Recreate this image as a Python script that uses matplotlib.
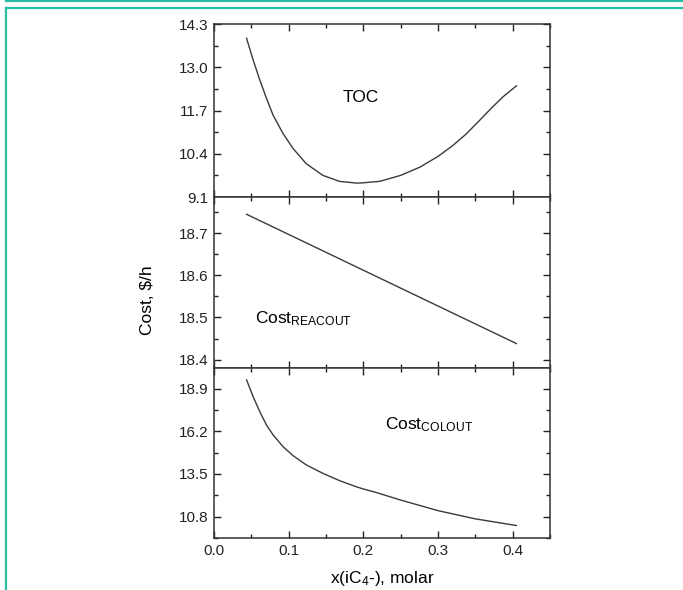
import matplotlib
matplotlib.use("Agg")
import matplotlib.pyplot as plt
import numpy as np
from matplotlib.ticker import FixedLocator, MultipleLocator, FormatStrFormatter
from matplotlib.lines import Line2D

plt.rcParams['font.family'] = ['Liberation Sans', 'DejaVu Sans']
plt.rcParams['mathtext.fontset'] = 'custom'
plt.rcParams['mathtext.rm'] = 'Liberation Sans'
plt.rcParams['mathtext.it'] = 'Liberation Sans'

# ---- data ----
toc_x = [0.0436, 0.0524, 0.0613, 0.0702, 0.0791, 0.0924, 0.1058, 0.1236, 0.1458,
         0.168, 0.190, 0.196, 0.222, 0.25, 0.276, 0.30, 0.32, 0.338, 0.356,
         0.371, 0.387, 0.405]
toc_y = [13.87, 13.22, 12.62, 12.07, 11.56, 11.01, 10.56, 10.10, 9.75,
         9.57, 9.52, 9.52, 9.57, 9.75, 10.0, 10.32, 10.65, 11.0, 11.41,
         11.76, 12.11, 12.44]

reac_x = [0.0436, 0.405]
reac_y = [18.745, 18.438]

col_x = [0.0436, 0.0524, 0.0613, 0.0702, 0.0791, 0.0924, 0.1058, 0.1236, 0.1458,
         0.168, 0.190, 0.2, 0.217, 0.25, 0.3, 0.35, 0.405]
col_y = [19.45, 18.39, 17.44, 16.60, 15.97, 15.23, 14.66, 14.07, 13.54,
         13.08, 12.70, 12.55, 12.33, 11.85, 11.18, 10.66, 10.24]

toc_ticks = [9.1, 10.4, 11.7, 13.0, 14.3]
reac_ticks = [18.4, 18.5, 18.6, 18.7]
col_ticks = [10.8, 13.5, 16.2, 18.9]
x_ticks = [0.0, 0.1, 0.2, 0.3, 0.4]

W, H = 683, 590
fig = plt.figure(figsize=(W / 100, H / 100), dpi=100)

left = 214 / W
width = 336 / W

def ax_rect(top_px, bot_px):
    return [left, 1 - bot_px / H, width, (bot_px - top_px) / H]

ax1 = fig.add_axes(ax_rect(24, 197))
ax2 = fig.add_axes(ax_rect(197, 368))
ax3 = fig.add_axes(ax_rect(368, 538))

line_kw = dict(color='#3a3a3a', lw=1.0, solid_joinstyle='round')
ax1.plot(toc_x, toc_y, **line_kw)
ax2.plot(reac_x, reac_y, **line_kw)
ax3.plot(col_x, col_y, **line_kw)

ax1.set_ylim(9.1, 14.3)
ax2.set_ylim(18.38, 18.786)
ax3.set_ylim(9.45, 20.2)

ax1.yaxis.set_major_locator(FixedLocator(toc_ticks))
ax1.yaxis.set_minor_locator(MultipleLocator(0.65))
ax2.yaxis.set_major_locator(FixedLocator(reac_ticks))
ax2.yaxis.set_minor_locator(MultipleLocator(0.05))
ax3.yaxis.set_major_locator(FixedLocator(col_ticks))
ax3.yaxis.set_minor_locator(MultipleLocator(1.35))

for ax in (ax1, ax2, ax3):
    ax.set_xlim(0, 0.45)
    ax.xaxis.set_major_locator(FixedLocator(x_ticks))
    ax.xaxis.set_minor_locator(MultipleLocator(0.05))
    ax.yaxis.set_major_formatter(FormatStrFormatter('%.1f'))
    ax.tick_params(which='both', direction='in', top=True, right=True,
                   labelsize=11, colors='#222222', pad=4, width=1.0)
    ax.tick_params(which='major', length=5)
    ax.tick_params(which='minor', length=3)
    for s in ax.spines.values():
        s.set_linewidth(1.1)
        s.set_color('#333333')

for ax in (ax1, ax2):
    ax.tick_params(labelbottom=False)

ax3.xaxis.set_major_formatter(FormatStrFormatter('%.1f'))
ax3.set_xlabel(r'x(iC$_4$-), molar', fontsize=12.5, labelpad=8)

ax1.text(0.196, 12.09, 'TOC', fontsize=12.5, ha='center', va='center')
ax2.text(0.0547, 18.487, r'Cost$_{\mathrm{REACOUT}}$', fontsize=12.5,
         ha='left', va='baseline')
ax3.text(0.229, 16.35, r'Cost$_{\mathrm{COLOUT}}$', fontsize=12.5,
         ha='left', va='baseline')

fig.text(147 / W, 1 - 300 / H, 'Cost, $/h', rotation=90, fontsize=12.5,
         ha='center', va='center')

# teal frame
teal = '#26bfa3'
fig.add_artist(Line2D([6 / W, 1], [1 - 1 / H, 1 - 1 / H], color=teal, lw=1.6,
                      transform=fig.transFigure))
fig.add_artist(Line2D([5.5 / W, 1], [1 - 8 / H, 1 - 8 / H], color=teal, lw=1.6,
                      transform=fig.transFigure))
fig.add_artist(Line2D([5.5 / W, 5.5 / W], [0, 1 - 8 / H], color=teal, lw=1.6,
                      transform=fig.transFigure))

fig.savefig('out.png', dpi=100)
